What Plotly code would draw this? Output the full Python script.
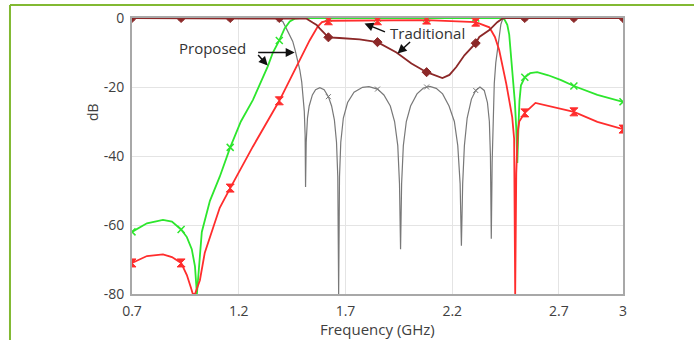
import numpy as np
import plotly.graph_objects as go

# ---------------- data ----------------
MARKER_F = [0.7, 0.93, 1.16, 1.39, 1.62, 1.85, 2.08, 2.31, 2.54, 2.77, 3.0]

# Proposed S11 (gray)
prop_s11_f = [0.7, 0.93, 1.16, 1.3, 1.359, 1.39, 1.406, 1.425, 1.44, 1.453, 1.465, 1.476, 1.486, 1.495, 1.502, 1.507, 1.511, 1.513,
              1.516, 1.522, 1.53, 1.545, 1.56, 1.58, 1.60, 1.62, 1.635, 1.648, 1.658, 1.664, 1.668,
              1.672, 1.678, 1.69, 1.71, 1.74, 1.78, 1.81, 1.85, 1.88, 1.91, 1.93, 1.945, 1.953, 1.958,
              1.963, 1.971, 1.985, 2.005, 2.035, 2.065, 2.08, 2.095, 2.125, 2.155, 2.185, 2.21, 2.226, 2.237, 2.243,
              2.249, 2.257, 2.27, 2.29, 2.31, 2.33, 2.35, 2.365, 2.374, 2.379, 2.383,
              2.387, 2.392, 2.397, 2.404, 2.411, 2.42, 2.428, 2.436, 2.45, 2.54, 2.77, 3.0]
prop_s11_db = [0, 0, 0, 0, 0, -0.3, -1.0, -3.3, -5.0, -6.8, -9.5, -12.0, -15.0, -18.5, -22.5, -27.0, -34.0, -49.0,
               -36.0, -29.0, -25.5, -22.3, -20.8, -20.2, -20.8, -22.8, -25.5, -29.5, -36.0, -46.0, -80.0,
               -46.0, -36.0, -29.0, -24.5, -21.5, -20.1, -19.9, -20.6, -22.3, -25.5, -30.0, -37.0, -48.0, -67.0,
               -48.0, -37.0, -30.0, -25.5, -22.0, -20.3, -20.0, -19.8, -20.4, -22.0, -25.5, -30.0, -37.0, -48.0, -66.0,
               -48.0, -37.0, -29.0, -23.5, -21.0, -20.0, -21.0, -24.5, -30.0, -40.0, -64.0,
               -42.0, -28.0, -19.0, -13.0, -9.4, -4.5, -1.8, -0.4, 0, 0, 0, 0]

# Proposed S21 (green)
prop_s21_f = [0.7, 0.77, 0.845, 0.887, 0.93, 0.957, 0.98, 0.995, 1.004, 1.013, 1.027, 1.065, 1.111, 1.16,
              1.21, 1.266, 1.308, 1.336, 1.36, 1.39, 1.415, 1.439, 1.462, 1.485, 1.62, 1.85, 2.08, 2.31,
              2.44, 2.448, 2.458, 2.467, 2.481, 2.493, 2.50, 2.505, 2.51, 2.515, 2.522, 2.54, 2.565, 2.598,
              2.65, 2.71, 2.77, 2.88, 3.0]
prop_s21_db = [-62.0, -59.5, -58.5, -59.0, -61.3, -63.5, -67.0, -72.0, -80.0, -72.0, -62.0, -53.0, -46.0, -37.5,
               -30.0, -23.8, -18.0, -14.0, -10.0, -6.5, -3.0, -1.0, -0.2, 0, 0, 0, 0, 0,
               0, -0.8, -2.0, -4.8, -14.5, -24.0, -32.0, -42.0, -32.0, -24.0, -19.5, -17.2, -16.0, -15.7,
               -16.6, -18.0, -19.7, -22.3, -24.3]

# Traditional S21 (red)
trad_s21_f = [0.7, 0.77, 0.845, 0.887, 0.93, 0.957, 0.975, 0.985, 0.995, 1.018, 1.041, 1.079, 1.111, 1.16,
              1.266, 1.39, 1.439, 1.485, 1.532, 1.57, 1.59, 1.62, 1.85, 2.08, 2.31, 2.34, 2.374, 2.40,
              2.42, 2.453, 2.481, 2.49, 2.495, 2.50, 2.507, 2.514, 2.54, 2.59, 2.65, 2.77, 2.88, 3.0]
trad_s21_db = [-71.0, -69.0, -68.5, -69.3, -71.0, -74.5, -78.0, -80.0, -80.0, -76.0, -68.0, -61.0, -55.0, -49.3,
               -37.3, -24.0, -18.0, -12.5, -6.5, -2.5, -1.2, -0.8, -0.8, -0.6, -1.2, -1.8, -2.7, -5.5,
               -9.3, -19.0, -28.7, -35.0, -80.0, -45.0, -33.0, -30.0, -27.5, -24.6, -25.5, -27.2, -30.1, -32.2]

# Traditional S11 (dark red)
trad_s11_f = [0.7, 0.93, 1.16, 1.39, 1.45, 1.518, 1.546, 1.565, 1.579, 1.602, 1.62, 1.672, 1.766, 1.85,
              1.939, 2.009, 2.08, 2.154, 2.187, 2.219, 2.257, 2.31, 2.327, 2.374, 2.411, 2.434, 2.45,
              2.54, 2.77, 3.0]
trad_s11_db = [0, 0, 0, 0, 0, -0.2, -1.3, -2.0, -3.0, -4.5, -5.6, -5.8, -6.2, -7.0,
               -10.0, -13.2, -15.7, -17.4, -16.5, -14.2, -10.8, -7.3, -5.5, -3.5, -1.2, -0.2, 0,
               0, 0, 0]

x_tickvals = [0.7, 1.2, 1.7, 2.2, 2.7, 3.0]
x_ticktext = ["0.7", "1.2", "1.7", "2.2", "2.7", "3"]
y_tickvals = [0, -20, -40, -60, -80]
y_ticktext = ["0", "-20", "-40", "-60", "-80"]

# ---------------- figure ----------------
fig = go.Figure()


def add_series(f, db, color, width, symbol, msize, mline=1.5):
    f = np.asarray(f, dtype=float)
    db = np.asarray(db, dtype=float)
    fig.add_trace(go.Scatter(x=f, y=db, mode="lines",
                             line=dict(color=color, width=width),
                             hoverinfo="skip", showlegend=False))
    mask = np.array([np.any(np.isclose(v, MARKER_F)) for v in f])
    fig.add_trace(go.Scatter(x=f[mask], y=db[mask], mode="markers",
                             marker=dict(symbol=symbol, size=msize, color=color,
                                         line=dict(color=color, width=mline)),
                             hoverinfo="skip", showlegend=False))


add_series(prop_s11_f, prop_s11_db, "rgb(120,120,120)", 1.2, "x-thin", 5, 1)
add_series(prop_s21_f, prop_s21_db, "rgb(45,230,45)", 1.8, "x-thin", 7, 1.5)
add_series(trad_s21_f, trad_s21_db, "rgb(255,45,45)", 1.8, "hourglass", 8, 1)
add_series(trad_s11_f, trad_s11_db, "rgb(140,40,40)", 1.8, "diamond", 7, 1)

tick_font = dict(family="Open Sans, Lato, sans-serif", size=14, color="#404040")

fig.update_xaxes(range=[0.7, 3.0], tickvals=x_tickvals, ticktext=x_ticktext,
                 showgrid=True, gridcolor="#e4e4e4", gridwidth=1,
                 showline=True, linecolor="#a8a8a8", linewidth=2, mirror=True,
                 zeroline=False, ticks="", tickfont=tick_font, ticklabelstandoff=3,
                 automargin=False)
fig.update_yaxes(range=[-80, 0], tickvals=y_tickvals, ticktext=y_ticktext,
                 showgrid=True, gridcolor="#e4e4e4", gridwidth=1,
                 showline=True, linecolor="#a8a8a8", linewidth=2, mirror=True,
                 zeroline=False, ticks="", tickfont=tick_font, ticklabelstandoff=3,
                 automargin=False)

ann_font = dict(family="Open Sans, Lato, sans-serif", size=15, color="#333333")
annotations = [
    dict(x=0.501, y=0, xref="paper", yref="paper", text="Frequency (GHz)", showarrow=False,
         yshift=-35, yanchor="middle", font=dict(family="Open Sans, Lato, sans-serif", size=15, color="#404040")),
    dict(x=0, y=0.659, xref="paper", yref="paper", text="dB", showarrow=False, textangle=-90,
         xshift=-40, xanchor="center", font=dict(family="Open Sans, Lato, sans-serif", size=14, color="#404040")),
    dict(x=1.079, y=-8.55, text="Proposed", showarrow=False, font=ann_font),
    dict(x=2.084, y=-4.49, text="Traditional", showarrow=False, font=ann_font),
]
arrows = [
    (1.462, -10.0, -38, 0),
    (1.336, -13.8, -11, -12),
    (1.789, -1.6, 22, 9),
    (1.944, -10.3, 14, -13),
]
for hx, hy, ax, ay in arrows:
    annotations.append(dict(x=hx, y=hy, ax=ax, ay=ay, axref="pixel", ayref="pixel", text="",
                            showarrow=True, arrowhead=2, arrowsize=1.2, arrowwidth=1.5,
                            arrowcolor="#111111"))

frame = dict(color="rgb(130,185,50)", width=2)
shapes = [
    dict(type="line", xref="paper", yref="paper", x0=-0.2485, x1=1.15, y0=1.047, y1=1.047, line=frame),
    dict(type="line", xref="paper", yref="paper", x0=-0.2485, x1=-0.2485, y0=1.047, y1=-0.2, line=frame),
]

fig.update_layout(width=694, height=340, margin=dict(l=132, r=71, t=18, b=46),
                  paper_bgcolor="white", plot_bgcolor="white",
                  annotations=annotations, shapes=shapes, showlegend=False)

fig.write_html("out.html", config={"displayModeBar": False},
               post_script="document.body.style.margin='0';document.body.style.overflow='hidden';")
